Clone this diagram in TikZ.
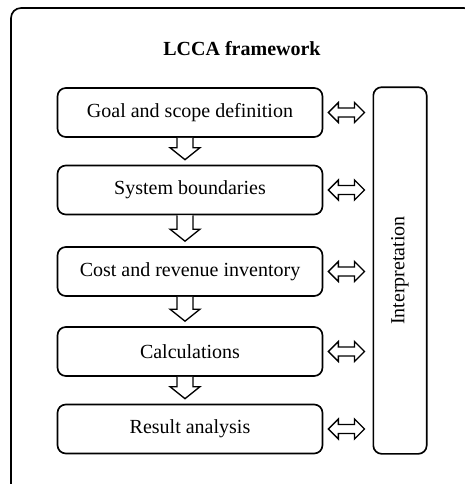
\documentclass[tikz,border=0pt]{standalone}
\usepackage{fontspec}
\setmainfont{Liberation Serif}
\usepackage{graphicx}
\usetikzlibrary{calc}

\tikzset{
  stage/.style={draw, rounded corners=5pt, line width=1pt, inner sep=0pt,
    minimum width=159pt, minimum height=29.4pt, font=\fontsize{12}{14}\selectfont},
  interpbox/.style={draw, rounded corners=5pt, line width=1pt, inner sep=0pt,
    minimum width=32pt, minimum height=220pt, font=\fontsize{12}{14}\selectfont},
  blockarrow/.style={draw, line width=0.8pt, line join=miter, fill=white},
  frame/.style={draw, rounded corners=6pt, line width=1pt}
}

\begin{document}
\begin{tikzpicture}[x=0.6pt,y=-0.6pt]
\useasboundingbox (0,0) rectangle (465,484);
\clip (0,0) rectangle (465,484);

% outer frame, runs past the right and bottom edge
\draw[frame] (11,8) rectangle (474,496);
\node[font=\fontsize{12}{14}\selectfont\bfseries] (title) at (242,49) {LCCA framework};

% stages
\node[stage] (goal)   at (190,112.5) {Goal and scope definition};
\node[stage] (scope)  at (190,190)   {System boundaries};
\node[stage] (cost)   at (190,271.5) {Cost and revenue inventory};
\node[stage] (calc)   at (190,351.5) {Calculations};
\node[stage] (result) at (190,429)   {Result analysis};

\node[interpbox] (interp) at (400,270.5) {\rotatebox{90}{Interpretation}};

% hollow arrows down
\foreach \a/\b in {goal/scope,scope/cost,cost/calc,calc/result}{
  \draw[blockarrow] ($(\a.south)+(-13,0)$) -- ($(\b.north)+(-13,-17)$)
    -- ($(\b.north)+(-20,-17)$) -- ($(\b.north)+(-5,-5)$)
    -- ($(\b.north)+(10,-17)$) -- ($(\b.north)+(3,-17)$)
    -- ($(\a.south)+(3,0)$);
}

% double arrows to interpretation
\foreach \n in {goal,scope,cost,calc,result}{
  \coordinate (l\n) at ($(\n.east)+(5,0)$);
  \coordinate (r\n) at ($(\n.east -| interp.west)+(-8,0)$);
  \draw[blockarrow] (l\n) -- ($(l\n)+(10,-10)$) -- ($(l\n)+(10,-4.5)$)
    -- ($(r\n)+(-10,-4.5)$) -- ($(r\n)+(-10,-10)$) -- (r\n)
    -- ($(r\n)+(-10,10)$) -- ($(r\n)+(-10,4.5)$) -- ($(l\n)+(10,4.5)$)
    -- ($(l\n)+(10,10)$) -- cycle;
}
\end{tikzpicture}
\end{document}
